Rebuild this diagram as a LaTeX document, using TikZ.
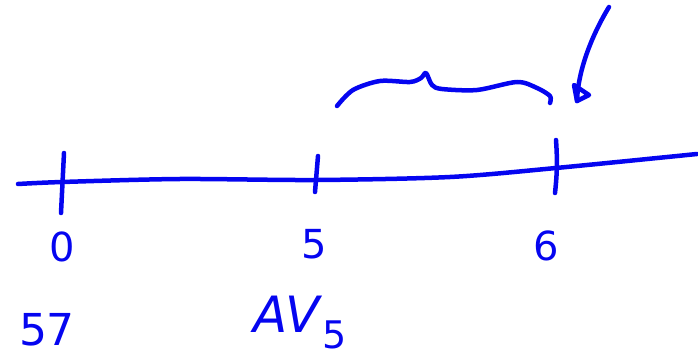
\documentclass[tikz,border=0pt]{standalone}
\usepackage{fontspec}
\setmainfont{DejaVu Sans}
\definecolor{ink}{RGB}{5,5,240}
\tikzset{
  pen/.style={ink, line width=4.5pt, line cap=round, line join=round},
  lbl/.style={text=ink, font=\fontsize{40}{46}\selectfont, inner sep=0pt},
}
\begin{document}
\begin{tikzpicture}[x=1pt,y=-1pt]
        \useasboundingbox (0,0) rectangle (698,363);
        % time line
        \draw[pen] plot[smooth, tension=0.5] coordinates {(18,184) (62,182) (180,179) (316,180) (450,177) (556,168) (697,154)};
        \coordinate (a0) at (64,153);  \coordinate (b0) at (61,213);
        \coordinate (a5) at (318,156); \coordinate (b5) at (315,192);
        \coordinate (a6) at (556,140); \coordinate (b6) at (555,193);
        \draw[pen] (a0) -- (b0);
        \draw[pen] (a5) -- (b5);
        \draw[pen] (a6) to[bend left=5] (b6);
        \node[lbl] (l0) at (62,247) {0};
        \node[lbl] (l5) at (314,244) {5};
        \node[lbl] (l6) at (546,246) {6};
        \node[lbl, font=\fontsize{44}{50}\selectfont] (st) at (47,330) {57};
        \node[lbl, font=\fontsize{50}{56}\selectfont] (av) at (300,323) {\textit{AV}\raisebox{-16pt}{\fontsize{38}{42}\selectfont 5}};
        % brace over 5..6
        \draw[pen] plot[smooth, tension=0.5] coordinates {(337,106) (353,90) (380,81) (410,82) (421,78) (426,73) (432,85) (442,89) (477,90) (517,82) (537,88) (550,96) (550,103)};
        % arrow
        \coordinate (tail) at (609,7);
        \coordinate (tip) at (577,101);
        \draw[pen] (tail) .. controls (592,35) and (578,70) .. (tip);
        \draw[pen] (574,85) -- (tip) -- (589,95) -- cycle;
\end{tikzpicture}
\end{document}
